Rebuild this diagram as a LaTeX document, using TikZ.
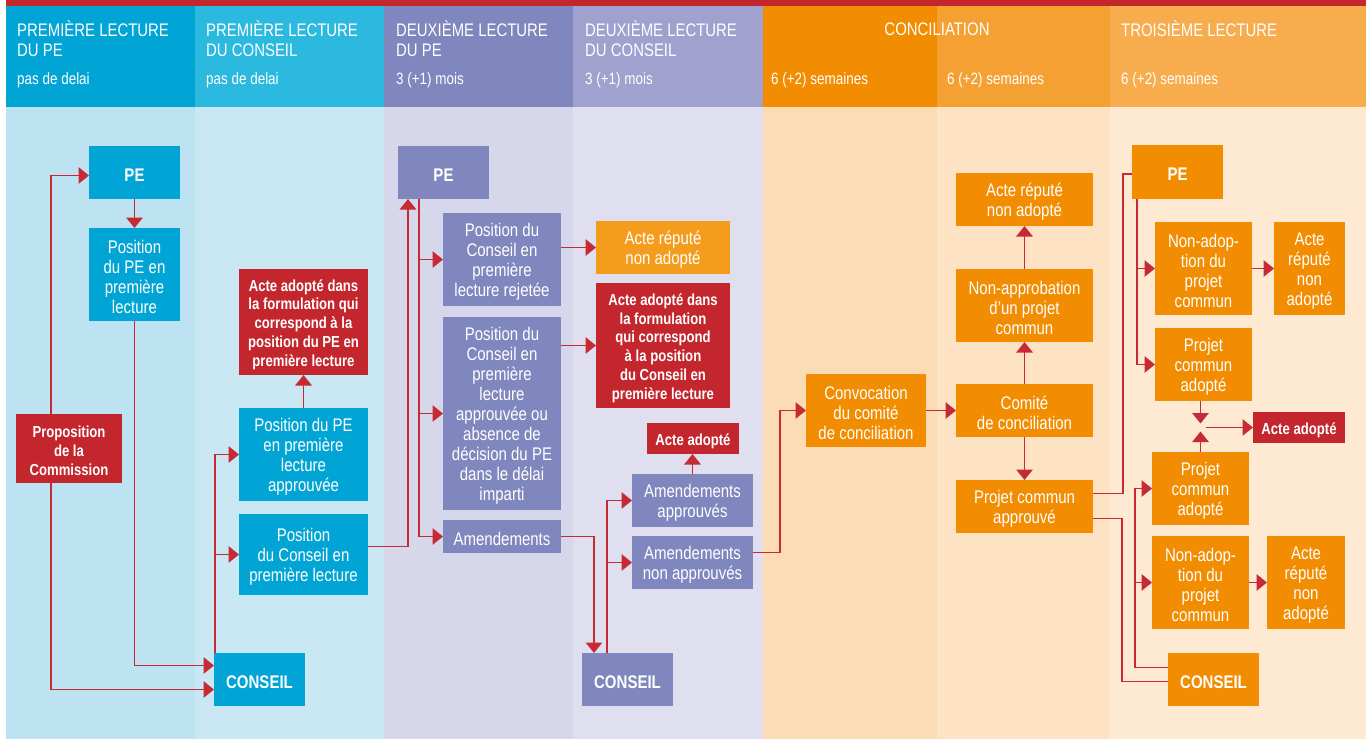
\documentclass[tikz,border=0pt]{standalone}
\usepackage{fontspec}
\setmainfont{Liberation Sans}[FakeStretch=0.82]
\usetikzlibrary{arrows.meta,calc}

% band colours (header / body)
\definecolor{redbar}{HTML}{C4262E}
\definecolor{hA}{HTML}{00A5D5}\definecolor{bA}{HTML}{BDE3F2}
\definecolor{hB}{HTML}{2CB9DF}\definecolor{bB}{HTML}{C9E8F3}
\definecolor{hC}{HTML}{7F87BE}\definecolor{bC}{HTML}{D6D7EA}
\definecolor{hD}{HTML}{A0A1CF}\definecolor{bD}{HTML}{DFDFEF}
\definecolor{hE}{HTML}{F28C00}\definecolor{bE}{HTML}{FCDCB5}
\definecolor{hF}{HTML}{F5A032}\definecolor{bF}{HTML}{FDE3C3}
\definecolor{hG}{HTML}{F7AC4D}\definecolor{bG}{HTML}{FEEAD3}
% box colours
\definecolor{bxcyan}{HTML}{00A5D5}
\definecolor{bxpurple}{HTML}{7F87BE}
\definecolor{bxorange}{HTML}{F28C00}
\definecolor{bxlightorange}{HTML}{F49C1B}
\definecolor{bxred}{HTML}{C4262E}
\definecolor{linkred}{HTML}{C62B35}

% \flowbox{name}{style}{x1}{y1}{x2}{y2}{text}
% a filled box (used by the connectors) and its label, set a little low
\newcommand\flowbox[7]{%
  \node[#2, minimum width={(#5-#3)*1pt}, minimum height={(#6-#4)*1pt}]
    (#1) at ({(#3+#5)/2},{(#4+#6)/2}) {};
  \node[#2, fill=none] (#1t) at ({(#3+#5)/2},{(#4+#6)/2+2.5}) {#7};}

\tikzset{
  box/.style={inner sep=0pt, outer sep=0pt, align=center, text=white,
    font=\fontsize{18.3}{20}\selectfont},
  cyanbox/.style={box, fill=bxcyan},
  purplebox/.style={box, fill=bxpurple},
  orangebox/.style={box, fill=bxorange},
  lorangebox/.style={box, fill=bxlightorange},
  redbox/.style={box, fill=bxred, font=\bfseries\fontsize{16}{18.8}\selectfont},
  actor/.style={font=\bfseries\fontsize{18.3}{20}\selectfont},
  hdr/.style={anchor=base west, inner sep=0pt, text=white,
    font=\fontsize{18.2}{20}\selectfont},
  hsub/.style={anchor=base west, inner sep=0pt, text=white,
    font=\fontsize{16.4}{18}\selectfont},
  link/.style={draw=linkred, line width=1.5pt},
  arr/.style={link, -{Triangle[length=10.5pt,width=16.5pt]}},
}

\begin{document}
\begin{tikzpicture}[x=1pt, y=-1pt]
\useasboundingbox (0,0) rectangle (1370,740);
\fill[white] (0,0) rectangle (1370,740);

% top rule and the seven stage bands
\fill[redbar] (6,0) rectangle (1366,6);
\foreach \xa/\xb/\hc/\bc in {6/195/hA/bA, 195/384/hB/bB, 384/573/hC/bC,
    573/763/hD/bD, 763/937/hE/bE, 937/1110/hF/bF, 1110/1366/hG/bG}{
  \fill[\hc] (\xa,6) rectangle (\xb,107);
  \fill[\bc] (\xa,107) rectangle (\xb,739);
}

% stage headings
\node[hdr] (t1a) at (17,36) {PREMIÈRE LECTURE};
\node[hdr] (t1b) at (17,56) {DU PE};
\node[hsub] (s1) at (17,84) {pas de delai};
\node[hdr] (t2a) at (206,36) {PREMIÈRE LECTURE};
\node[hdr] (t2b) at (206,56) {DU CONSEIL};
\node[hsub] (s2) at (206,84) {pas de delai};
\node[hdr] (t3a) at (396,36) {DEUXIÈME LECTURE};
\node[hdr] (t3b) at (396,56) {DU PE};
\node[hsub] (s3) at (396,84) {3 (+1) mois};
\node[hdr] (t4a) at (585,36) {DEUXIÈME LECTURE};
\node[hdr] (t4b) at (585,56) {DU CONSEIL};
\node[hsub] (s4) at (585,84) {3 (+1) mois};
\node[hdr, anchor=base] (t5) at (937,35) {CONCILIATION};
\node[hsub] (s5) at (771,84) {6 (+2) semaines};
\node[hsub] (s6) at (947,84) {6 (+2) semaines};
\node[hdr] (t7) at (1121,36) {TROISIÈME LECTURE};
\node[hsub] (s7) at (1121,84) {6 (+2) semaines};

% first reading, Parliament
\flowbox{PEa}{cyanbox,actor}{89}{146}{180}{199}{PE}
\flowbox{PosPEa}{cyanbox}{89}{228}{180}{321}{Position\\du PE en\\première\\lecture}
\flowbox{Prop}{redbox}{16}{414}{122}{483}{Proposition\\de la\\Commission}
\flowbox{Conseila}{cyanbox,actor}{214}{653}{305}{706}{CONSEIL}

% first reading, Council
\flowbox{ActeA}{redbox}{239}{269}{368}{375}{Acte adopté dans\\la formulation qui\\correspond à la\\position du PE en\\première lecture}
\flowbox{PosPEapp}{cyanbox}{239}{408}{368}{501}{Position du PE\\en première\\lecture\\approuvée}
\flowbox{PosConsa}{cyanbox}{239}{514}{368}{595}{Position\\du Conseil en\\première lecture}

% second reading, Parliament
\flowbox{PEb}{purplebox,actor}{398}{146}{489}{199}{PE}
\flowbox{PosRej}{purplebox}{443}{213}{561}{306}{Position du\\Conseil en\\première\\lecture rejetée}
\flowbox{PosApp}{purplebox}{443}{317}{561}{510}{Position du\\Conseil en\\première\\lecture\\approuvée ou\\absence de\\décision du PE\\dans le délai\\imparti}
\flowbox{Amend}{purplebox}{443}{520}{561}{553}{Amendements}

% second reading, Council
\flowbox{RepB}{lorangebox}{596}{221}{730}{274}{Acte réputé\\non adopté}
\flowbox{ActeB}{redbox}{596}{283}{730}{408}{Acte adopté dans\\la formulation\\qui correspond\\à la position\\du Conseil en\\première lecture}
\flowbox{ActeC}{redbox}{647}{423}{739}{454}{Acte adopté}
\flowbox{AmApp}{purplebox}{632}{474}{753}{527}{Amendements\\approuvés}
\flowbox{AmNon}{purplebox}{632}{536}{753}{589}{Amendements\\non approuvés}
\flowbox{Conseilb}{purplebox,actor}{582}{653}{673}{706}{CONSEIL}

% conciliation
\flowbox{Convoc}{orangebox}{806}{374}{926}{447}{Convocation\\du comité\\de conciliation}
\flowbox{RepC}{orangebox}{956}{173}{1093}{226}{Acte réputé\\non adopté}
\flowbox{NonAppr}{orangebox}{956}{269}{1093}{342}{Non-approbation\\d’un projet\\commun}
\flowbox{Comite}{orangebox}{956}{384}{1093}{437}{Comité\\de conciliation}
\flowbox{ProjApp}{orangebox}{956}{480}{1093}{533}{Projet commun\\approuvé}

% third reading
\flowbox{PEc}{orangebox,actor}{1132}{145}{1223}{199}{PE}
\flowbox{NonAdA}{orangebox}{1155}{222}{1252}{315}{Non-adop-\\tion du\\projet\\commun}
\flowbox{RepD}{orangebox}{1274}{222}{1345}{315}{Acte\\réputé\\non\\adopté}
\flowbox{ProjAdA}{orangebox}{1155}{328}{1252}{401}{Projet\\commun\\adopté}
\flowbox{ActeD}{redbox}{1253}{412}{1345}{443}{Acte adopté}
\flowbox{ProjAdB}{orangebox}{1152}{452}{1249}{525}{Projet\\commun\\adopté}
\flowbox{NonAdB}{orangebox}{1152}{536}{1249}{629}{Non-adop-\\tion du\\projet\\commun}
\flowbox{RepE}{orangebox}{1267}{536}{1345}{629}{Acte\\réputé\\non\\adopté}
\flowbox{Conseilc}{orangebox,actor}{1168}{653}{1259}{706}{CONSEIL}
\coordinate (J) at (1200.5,427.5);

% connectors: first reading
\draw[arr] (PEa) -- (PosPEa);
\draw[arr] ($(Prop.north)+(-18,0)$) |- ($(PEa.west)+(0,3)$);
\draw[arr] ($(Prop.south)+(-18,0)$) |- ($(Conseila.west)+(0,10)$);
\draw[arr] (PosPEa.south) |- ($(Conseila.west)+(0,-14)$);
\draw[arr] ($(Conseila.north west)+(1,0)$) |- (PosPEapp.west);
\draw[arr] ($(Conseila.north west)+(1,0)$) |- (PosConsa.west);
\draw[arr] (PosPEapp) -- (ActeA);
\draw[arr] ($(PosConsa.east)+(0,-8)$) -| ($(PEb.south west)+(10,0)$);

% connectors: second reading
\draw[arr] ($(PEb.south west)+(21,0)$) |- (PosRej.west);
\draw[arr] ($(PEb.south west)+(21,0)$) |- (PosApp.west);
\draw[arr] ($(PEb.south west)+(21,0)$) |- (Amend.west);
\draw[arr] (PosRej.east |- RepB.west) -- (RepB.west);
\draw[arr] (PosApp.east |- ActeB.west) -- (ActeB.west);
\draw[arr] (Amend.east) -| ($(Conseilb.north west)+(12,0)$);
\draw[arr] ($(Conseilb.north west)+(25,0)$) |- (AmApp.west);
\draw[arr] ($(Conseilb.north west)+(25,0)$) |- (AmNon.west);
\draw[arr] (AmApp.north) -- (ActeC.south -| AmApp.north);
\draw[arr] ($(AmNon.east)+(0,-10)$) -| ($(Convoc.west)+(-26,0)$) -- (Convoc.west);

% connectors: conciliation
\draw[arr] (Convoc) -- (Comite);
\draw[arr] (Comite) -- (NonAppr);
\draw[arr] (NonAppr) -- (RepC);
\draw[arr] (Comite) -- (ProjApp);
\draw[link] ($(ProjApp.east)+(0,-13)$) -| ($(PEc.west)+(-9,2)$) -- ($(PEc.west)+(0,2)$);
\draw[link] ($(ProjApp.east)+(0,12)$) -| ($(Conseilc.west)+(-46,2)$) -- ($(Conseilc.west)+(0,2)$);

% connectors: third reading
\draw[arr] ($(PEc.south west)+(5,0)$) |- (NonAdA.west);
\draw[arr] ($(PEc.south west)+(5,0)$) |- (ProjAdA.west);
\draw[arr] (NonAdA) -- (RepD);
\draw[arr] (ProjAdA.south -| J) -- ($(J)+(0,-4)$);
\draw[arr] (ProjAdB.north -| J) -- ($(J)+(0,4)$);
\draw[arr] ($(J)+(5,0)$) -- (ActeD.west);
\draw[arr] ($(Conseilc.west)+(0,-12)$) -| ($(ProjAdB.west)+(-17,0)$) -- (ProjAdB.west);
\draw[arr] ($(Conseilc.west)+(0,-12)$) -| ($(NonAdB.west)+(-17,0)$) -- (NonAdB.west);
\draw[arr] (NonAdB) -- (RepE);
\end{tikzpicture}
\end{document}
